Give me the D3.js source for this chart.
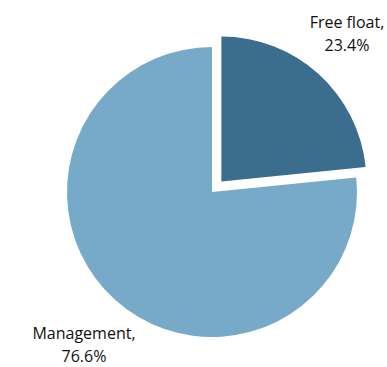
<!DOCTYPE html>
<html>
<head>
<meta charset="utf-8">
<script src="https://cdn.jsdelivr.net/npm/d3@7"></script>
<style>
  html, body { margin: 0; padding: 0; background: #fff; }
  svg { display: block; }
  text { font-family: "Open Sans", "Noto Sans", sans-serif; fill: #111; }
</style>
</head>
<body>
<svg id="chart" width="387" height="367"></svg>
<script>
// Shareholding structure
const categories = ["Free float", "Management"];
const shares = [23.4, 76.6];
const colors = ["#3a6d8e", "#77a9c8"];
const exploded = [true, false];

const width = 387, height = 367;
const cx = 212, cy = 192, radius = 145, explodeOffset = 14;

const svg = d3.select("#chart");

const pie = d3.pie().sort(null).value(d => d.value);
const arcs = pie(categories.map((c, i) => ({ name: c, value: shares[i], color: colors[i], explode: exploded[i] })));

const arc = d3.arc().innerRadius(0).outerRadius(radius);

const g = svg.append("g").attr("transform", `translate(${cx},${cy})`);

g.selectAll("path.slice")
  .data(arcs)
  .join("path")
  .attr("class", "slice")
  .attr("d", arc)
  .attr("fill", d => d.data.color)
  .attr("transform", d => {
    if (!d.data.explode) return null;
    const mid = (d.startAngle + d.endAngle) / 2;
    return `translate(${Math.sin(mid) * explodeOffset},${-Math.cos(mid) * explodeOffset})`;
  });

// Data labels: name on the first line, share on the second (alphabetic baselines)
const fmt = d3.format(".1f");
const labelPos = [[347, 28], [84, 339]];
const lineGap = 22.5;

arcs.forEach((d, i) => {
  const t = svg.append("text")
    .attr("text-anchor", "middle")
    .attr("font-size", 16)
    .attr("x", labelPos[i][0])
    .attr("y", labelPos[i][1]);
  t.append("tspan").attr("x", labelPos[i][0]).text(d.data.name + ",");
  t.append("tspan").attr("x", labelPos[i][0]).attr("dy", lineGap).text(fmt(d.data.value) + "%");
});
</script>
</body>
</html>
